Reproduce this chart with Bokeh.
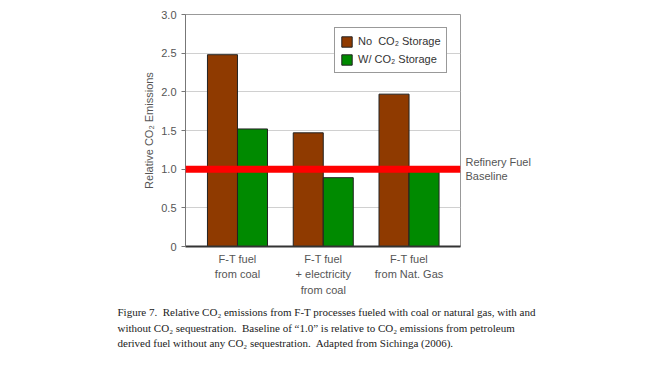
from bokeh.plotting import figure
from bokeh.models import (ColumnDataSource, Span, Legend, LegendItem, FixedTicker,
                          LinearAxis, Title)
from bokeh.transform import dodge
from bokeh.embed import file_html
from bokeh.resources import INLINE

groups = [1, 2, 3]
group_labels = ["F-T fuel\nfrom coal", "F-T fuel\n+ electricity\nfrom coal", "F-T fuel\nfrom Nat. Gas"]
no_storage = [2.48, 1.47, 1.97]
with_storage = [1.52, 0.89, 0.98]
series_names = ["No  CO\u2082 Storage", "W/ CO\u2082 Storage"]
baseline = 1.0
baseline_label = "Refinery Fuel\nBaseline"
y_ticks = [0, 0.5, 1.0, 1.5, 2.0, 2.5, 3.0]
y_tick_labels = ["0", "0.5", "1.0", "1.5", "2.0", "2.5", "3.0"]
caption_lines = [
    "Figure 7.\u00a0 Relative CO\u2082 emissions from F-T processes fueled with coal or natural gas, with and",
    "without CO\u2082 sequestration.\u00a0 Baseline of \u201c1.0\u201d is relative to CO\u2082 emissions from petroleum",
    "derived fuel without any CO\u2082 sequestration.\u00a0 Adapted from Sichinga (2006).",
]

src = ColumnDataSource(dict(x=groups, a=no_storage, b=with_storage))

X0, X1 = 0.394, 3.6
W, H = 655, 358
p = figure(width=W, height=H, output_backend="svg", toolbar_location=None,
           x_range=(X0, X1), y_range=(0, 3.0), x_axis_location=None,
           min_border_left=185, min_border_right=195, min_border_top=14, min_border_bottom=112)
p.background_fill_color = "white"
p.border_fill_color = "white"
p.outline_line_color = "#999999"
p.outline_line_width = 1

FONT = "Liberation Sans"
TXT = "#555555"
bw = 0.35
r1 = p.vbar(x=dodge("x", -bw / 2, range=p.x_range), top="a", width=bw, source=src,
            fill_color="#8f3a00", line_color="#222222", line_width=1)
r2 = p.vbar(x=dodge("x", bw / 2, range=p.x_range), top="b", width=bw, source=src,
            fill_color="#008a00", line_color="#222222", line_width=1)

p.add_layout(Span(location=baseline, dimension="width", line_color="#ff0000", line_width=7))

# y axis
p.yaxis.ticker = FixedTicker(ticks=y_ticks)
p.yaxis.major_label_overrides = {t: s for t, s in zip(y_ticks, y_tick_labels)}
p.yaxis.major_label_text_font = FONT
p.yaxis.major_label_text_font_size = "11px"
p.yaxis.major_label_text_color = TXT
p.yaxis.axis_line_color = "#777777"
p.yaxis.major_tick_line_color = "#777777"
p.yaxis.major_tick_out = 4
p.yaxis.major_tick_in = 0
p.yaxis.minor_tick_line_color = None
p.yaxis.axis_label = "Relative CO\u2082 Emissions"
p.yaxis.axis_label_text_font = FONT
p.yaxis.axis_label_text_font_size = "11px"
p.yaxis.axis_label_text_font_style = "normal"
p.yaxis.axis_label_text_color = TXT
p.yaxis.axis_label_standoff = 3

# right axis carrying the baseline label
ax_r = LinearAxis(ticker=FixedTicker(ticks=[baseline]),
                  major_label_overrides={baseline: baseline_label},
                  axis_line_color=None, major_tick_line_color=None, minor_tick_line_color=None,
                  major_tick_out=0, major_tick_in=0,
                  major_label_text_font=FONT, major_label_text_font_size="11px",
                  major_label_text_color=TXT, major_label_text_align="left",
                  major_label_standoff=5, major_label_text_line_height=1.2)
p.add_layout(ax_r, "right")

# bottom axis with multi-line group labels
ax_b = LinearAxis(ticker=FixedTicker(ticks=groups),
                  major_label_overrides={g: s for g, s in zip(groups, group_labels)},
                  axis_line_color="#333333", axis_line_width=2,
                  major_tick_line_color=None, minor_tick_line_color=None,
                  major_tick_out=0, major_tick_in=0,
                  major_label_text_font=FONT, major_label_text_font_size="11px",
                  major_label_text_color=TXT,
                  major_label_standoff=6, major_label_text_line_height=1.3)
p.add_layout(ax_b, "below")

p.xgrid.grid_line_color = None
p.ygrid.ticker = FixedTicker(ticks=y_ticks)
p.ygrid.grid_line_color = "#d0d0d0"

# legend
legend = Legend(items=[LegendItem(label=series_names[0], renderers=[r1]),
                       LegendItem(label=series_names[1], renderers=[r2])],
                location=(149, 173))
legend.border_line_color = "#333333"
legend.border_line_width = 1
legend.background_fill_alpha = 1
legend.padding = 5
legend.spacing = 2
legend.margin = 0
legend.label_height = 16
legend.glyph_height = 13
legend.glyph_width = 13
legend.label_standoff = 5
legend.label_text_font = FONT
legend.label_text_font_size = "11px"
legend.label_text_color = "#333333"
p.add_layout(legend, "center")

# caption as one multi-line title below
cap = Title(text="\n".join(caption_lines), align="left", offset=-68,
            text_font="Liberation Serif", text_font_size="11px",
            text_font_style="normal", text_color="#222222",
            text_line_height=1.3, standoff=12)
p.add_layout(cap, "below")

open("out.html", "w").write(file_html(p, INLINE))
